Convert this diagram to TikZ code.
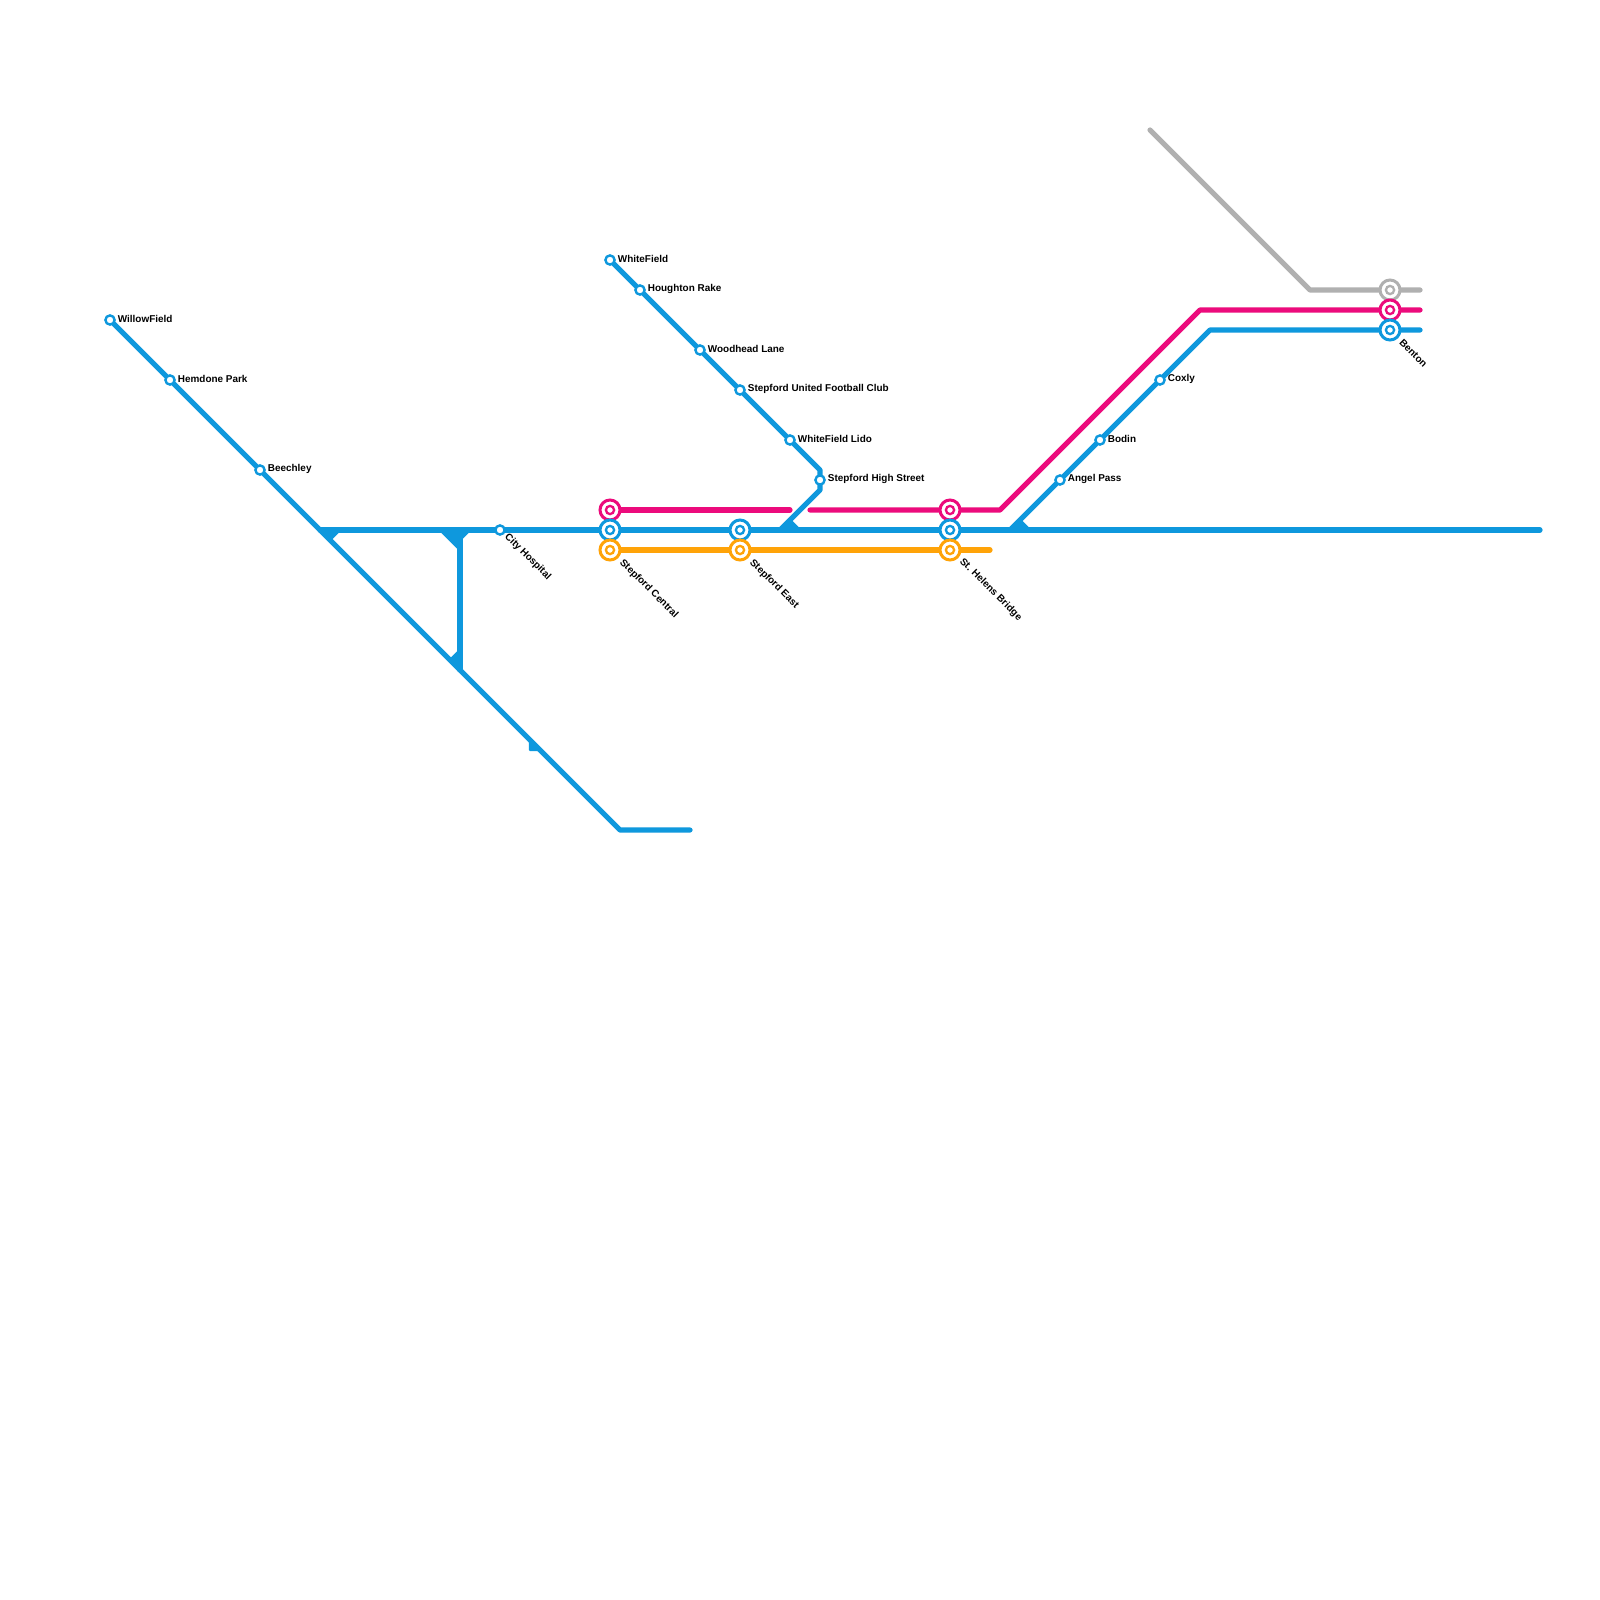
\documentclass[tikz,border=0pt]{standalone}
\usepackage{fontspec}
\setmainfont{Liberation Sans}
\definecolor{lblue}{HTML}{0E98DD}
\definecolor{lpink}{HTML}{EC0B7C}
\definecolor{lorange}{HTML}{FFA308}
\definecolor{lgrey}{HTML}{B0B0B0}
\tikzset{
 route/.style={line width=2.6pt,line cap=round,line join=round},
 fillet/.style={fill=lblue,draw=lblue,line width=1.2pt,line join=round},
 stop/.style={circle,draw=lblue,fill=white,line width=1.2pt,minimum size=4.6pt,inner sep=0pt},
 hub/.style={circle,draw=#1,fill=white,line width=1.5pt,minimum size=10pt,inner sep=0pt},
 core/.style={circle,draw=#1,fill=white,line width=1.15pt,minimum size=4.1pt,inner sep=0pt},
 lab/.style={font=\fontsize{4.97}{5.5}\selectfont\bfseries,text=black,inner sep=0pt,anchor=west},
 dlab/.style={lab,rotate=-45},
}
\newcommand{\hubat}[4]{% name, x, y, colour
 \node[hub=#4] (#1) at (#2,#3) {};
 \node[core=#4] (#1c) at (#2,#3) {};
}
\newcommand{\stopat}[4]{% name, x, y, label
 \node[stop] (#1) at (#2,#3) {};
 \node[lab] (#1l) at (#2+7.5,#3-0.8) {#4};
}
\begin{document}
\begin{tikzpicture}[x=0.5pt,y=-0.5pt]
\useasboundingbox (0,0) rectangle (1600,1600);
\fill[white] (0,0) rectangle (1600,1600);
% route waypoints
\coordinate (g1) at (1150,130);
\coordinate (g2) at (1310,290);
\coordinate (g3) at (1420,290);
\coordinate (p1) at (610,510);
\coordinate (p2) at (790,510);
\coordinate (p3) at (810,510);
\coordinate (p4) at (1000,510);
\coordinate (p5) at (1200,310);
\coordinate (p6) at (1420,310);
\coordinate (o1) at (610,550);
\coordinate (o2) at (990,550);
\coordinate (b1) at (110,320);
\coordinate (b2) at (620,830);
\coordinate (b3) at (690,830);
\coordinate (h1) at (320,530);
\coordinate (h2) at (1540,530);
\coordinate (v1) at (460,530);
\coordinate (v2) at (460,670);
\coordinate (t1) at (610,260);
\coordinate (t2) at (820,470);
\coordinate (t3) at (820,490);
\coordinate (t4) at (780,530);
\coordinate (e1) at (1010,530);
\coordinate (e2) at (1210,330);
\coordinate (e3) at (1420,330);
% routes
\draw[route,lgrey] (g1) -- (g2) -- (g3);
\draw[route,lpink] (p1) -- (p2);
\draw[route,lpink] (p3) -- (p4) -- (p5) -- (p6);
\draw[route,lorange] (o1) -- (o2);
\draw[route,lblue] (b1) -- (b2) -- (b3);
\draw[route,lblue] (h1) -- (h2);
\draw[route,lblue] (v1) -- (v2);
\draw[route,lblue] (t1) -- (t2) -- (t3) -- (t4);
\draw[route,lblue] (e1) -- (e2) -- (e3);
% junction fillets
\filldraw[fillet] (320,530) -- (340,530) -- (330,540) -- cycle;
\filldraw[fillet] (440,530) -- (470,530) -- (460,540) -- (460,550) -- cycle;
\filldraw[fillet] (460,650) -- (460,670) -- (450,660) -- cycle;
\filldraw[fillet] (530,740) -- (530,750) -- (540,750) -- cycle;
\filldraw[fillet] (780,530) -- (800,530) -- (790,520) -- cycle;
\filldraw[fillet] (1010,530) -- (1030,530) -- (1020,520) -- cycle;
% interchanges
\hubat{scp}{610}{510}{lpink}
\hubat{scb}{610}{530}{lblue}
\hubat{sco}{610}{550}{lorange}
\hubat{seb}{740}{530}{lblue}
\hubat{seo}{740}{550}{lorange}
\hubat{shp}{950}{510}{lpink}
\hubat{shb}{950}{530}{lblue}
\hubat{sho}{950}{550}{lorange}
\hubat{beg}{1390}{290}{lgrey}
\hubat{bep}{1390}{310}{lpink}
\hubat{beb}{1390}{330}{lblue}
% simple stations
\stopat{willow}{110}{320}{WillowField}
\stopat{hemdone}{170}{380}{Hemdone Park}
\stopat{beech}{260}{470}{Beechley}
\stopat{white}{610}{260}{WhiteField}
\stopat{hought}{640}{290}{Houghton Rake}
\stopat{wood}{700}{350}{Woodhead Lane}
\stopat{united}{740}{390}{Stepford United Football Club}
\stopat{lido}{790}{440}{WhiteField Lido}
\stopat{high}{820}{480}{Stepford High Street}
\stopat{angel}{1060}{480}{Angel Pass}
\stopat{bodin}{1100}{440}{Bodin}
\stopat{coxly}{1160}{380}{Coxly}
\node[stop] (city) at (500,530) {};
% diagonal labels
\node[dlab] (cityl) at (506,535) {City Hospital};
\node[dlab] (scl) at (621,561) {Stepford Central};
\node[dlab] (sel) at (751,561) {Stepford East};
\node[dlab] (shl) at (961,560) {St. Helens Bridge};
\node[dlab] (bel) at (1401,341) {Benton};
\end{tikzpicture}
\end{document}
